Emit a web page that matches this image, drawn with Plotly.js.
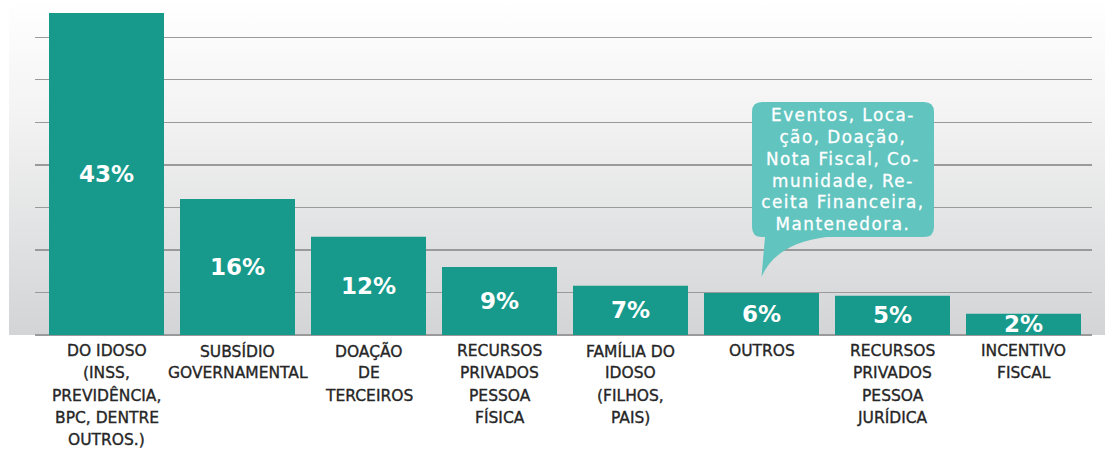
<!DOCTYPE html>
<html><head><meta charset="utf-8">
<script src="https://cdn.plot.ly/plotly-3.0.1.min.js"></script>
<style>
html,body{margin:0;padding:0;background:#fff;}
#wrap{position:relative;width:1105px;height:450px;overflow:hidden;}
#bg{position:absolute;left:9px;top:0;width:1096px;height:335px;background:linear-gradient(#ffffff 0%,#f4f4f4 32%,#d3d4d6 100%);}
#chart{position:absolute;left:0;top:0;width:1105px;height:450px;}
</style></head><body>
<div id="wrap"><div id="bg"></div><div id="chart"></div></div>
<script>
// Category labels (line breaks as in the reference)
const categories = [
  "DO IDOSO<br>(INSS,<br>PREVIDÊNCIA,<br>BPC, DENTRE<br>OUTROS.)",
  "SUBSÍDIO<br>GOVERNAMENTAL",
  "DOAÇÃO<br>DE<br>TERCEIROS",
  "RECURSOS<br>PRIVADOS<br>PESSOA<br>FÍSICA",
  "FAMÍLIA DO<br>IDOSO<br>(FILHOS,<br>PAIS)",
  "OUTROS",
  "RECURSOS<br>PRIVADOS<br>PESSOA<br>JURÍDICA",
  "INCENTIVO<br>FISCAL"
];
// Printed value labels
const valueLabels = ["43%", "16%", "12%", "9%", "7%", "6%", "5%", "2%"];
// Drawn bar heights (gridlines every 5 units)
const barHeights = [37.85, 16.0, 11.55, 8.0, 5.8, 4.95, 4.6, 2.5];
// Callout text attached to "OUTROS"
const calloutLines = ["Eventos, Loca-", "ção, Doação,", "Nota Fiscal, Co-", "munidade, Re-", "ceita Financeira,", "Mantenedora."];
const calloutIndex = 5;

const idx = categories.map((c, i) => i);

const annotations = [];
// value labels centred in the bars
idx.forEach(i => {
  annotations.push({
    x: i, y: barHeights[i] / 2, xref: 'x', yref: 'y',
    text: valueLabels[i], showarrow: false,
    xanchor: 'center', yanchor: 'middle',
    font: {family: 'DejaVu Sans', size: 23, color: '#ffffff', weight: 700}
  });
});
// category labels, one annotation per line for the wider line spacing
const labelIdx = [];
idx.forEach(i => {
  categories[i].split('<br>').forEach((line, k) => {
    labelIdx.push(annotations.length);
    annotations.push({
      x: i, y: 0, xref: 'x', yref: 'paper',
      text: line, showarrow: false,
      xanchor: 'center', yanchor: 'middle',
      yshift: -16 - k * 22.3,
      font: {family: 'DejaVu Sans', size: 15.5, color: '#262626'}
    });
  });
});
// callout text
const calloutAnn = annotations.length;
annotations.push({
  x: calloutIndex, y: barHeights[calloutIndex], xref: 'x', yref: 'y',
  text: calloutLines.join('<br>'), showarrow: false,
  xanchor: 'center', yanchor: 'middle', align: 'center',
  xshift: 81.5, yshift: 123,
  font: {family: 'DejaVu Sans', size: 16.8, color: '#ffffff'}
});

// light text styling to imitate the medium-weight, wide original face
const st = document.createElement('style');
st.textContent =
  labelIdx.map(n => `#chart .annotation[data-index="${n}"] text`).join(',') +
  `{stroke:#262626;stroke-width:0.35px;}` +
  `#chart .annotation[data-index="${calloutAnn}"] text{letter-spacing:1.5px;stroke:#ffffff;stroke-width:0.3px;}`;
document.head.appendChild(st);

// speech bubble (pixel offsets from the top centre of the OUTROS bar, y up)
const L = -9.5, R = 172.5, T = 191, B = 56, r = 10;
const bubble = `M ${L + r},${T} L ${R - r},${T} Q ${R},${T} ${R},${T - r} L ${R},${B + r} Q ${R},${B} ${R - r},${B} ` +
  `L 65,${B} Q 15,50 0,16 L 3.5,${B} L ${L + r},${B} Q ${L},${B} ${L},${B + r} L ${L},${T - r} Q ${L},${T} ${L + r},${T} Z`;

const data = [{
  type: 'bar',
  x: idx,
  y: barHeights,
  width: 115 / 131,
  marker: {color: '#179a8b', line: {width: 0}},
  hoverinfo: 'skip',
  textposition: 'none'
}];

const layout = {
  width: 1105, height: 450,
  margin: {l: 35, r: 13, t: 0, b: 114.7, pad: 0},
  paper_bgcolor: 'rgba(0,0,0,0)',
  plot_bgcolor: 'rgba(0,0,0,0)',
  showlegend: false,
  xaxis: {
    type: 'linear', range: [-0.5458, 7.5229],
    showgrid: false, zeroline: false, showticklabels: false, ticks: '', showline: false, fixedrange: true
  },
  yaxis: {
    range: [0, 39.38], tick0: 0, dtick: 5,
    showgrid: true, gridcolor: '#9a9a9a', gridwidth: 1.3,
    zeroline: true, zerolinecolor: '#9a9a9a', zerolinewidth: 1.3,
    showticklabels: false, ticks: '', showline: false, fixedrange: true
  },
  annotations: annotations,
  shapes: [{
    type: 'path', xref: 'x', yref: 'y',
    xsizemode: 'pixel', ysizemode: 'pixel',
    xanchor: calloutIndex, yanchor: barHeights[calloutIndex],
    path: bubble,
    fillcolor: '#62c4bf', line: {width: 0}, layer: 'above'
  }]
};

Plotly.newPlot('chart', data, layout, {staticPlot: true, displayModeBar: false});
</script>
</body></html>
